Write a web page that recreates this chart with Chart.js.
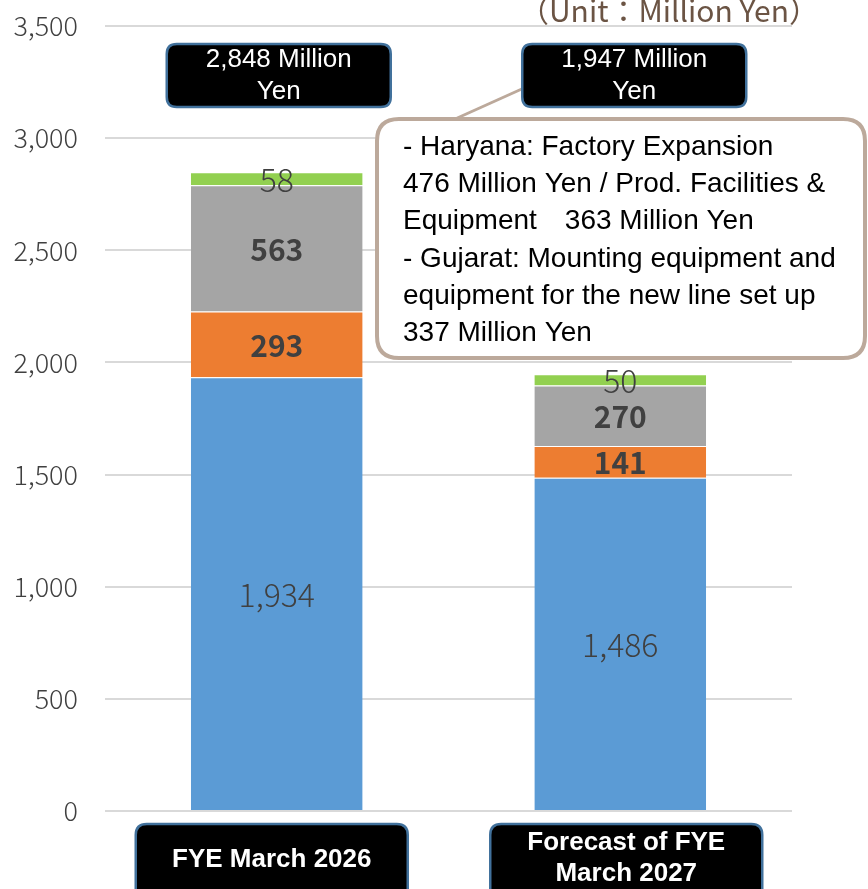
<!DOCTYPE html>
<html>
<head>
<meta charset="utf-8">
<script src="https://cdn.jsdelivr.net/npm/chart.js@4/dist/chart.umd.min.js"></script>
<style>
  html, body { margin: 0; padding: 0; background: #fff; }
  #wrap { width: 868px; height: 889px; position: relative; }
</style>
</head>
<body>
<div id="wrap"><canvas id="chart-capex"></canvas></div>
<script>
// 年度ラベル
const categories = [["FYE March 2026"], ["Forecast of FYE", "March 2027"]];
// 系列ごとの値 (百万円)
const seriesBlue = [1934, 1486];
const seriesOrange = [293, 141];
const seriesGray = [563, 270];
const seriesGreen = [58, 50];
// Y軸の目盛
const yTicks = [0, 500, 1000, 1500, 2000, 2500, 3000, 3500];

const unitText = "（Unit：Million Yen）";
const noteLines = [
  "- Haryana: Factory Expansion",
  "476 Million Yen / Prod. Facilities &",
  "Equipment　363 Million Yen",
  "- Gujarat: Mounting equipment and",
  "equipment for the new line set up",
  "337 Million Yen",
];

const totals = categories.map((_, i) => seriesBlue[i] + seriesOrange[i] + seriesGray[i] + seriesGreen[i]);
const fmt = (v) => v.toLocaleString("en-US");

const CJK = "'Noto Sans CJK JP', 'Noto Sans', sans-serif";
const ARIAL = "'Liberation Sans', Arial, sans-serif";

function roundRect(c, x, y, w, h, r) {
  c.beginPath();
  c.moveTo(x + r, y);
  c.lineTo(x + w - r, y);
  c.quadraticCurveTo(x + w, y, x + w, y + r);
  c.lineTo(x + w, y + h - r);
  c.quadraticCurveTo(x + w, y + h, x + w - r, y + h);
  c.lineTo(x + r, y + h);
  c.quadraticCurveTo(x, y + h, x, y + h - r);
  c.lineTo(x, y + r);
  c.quadraticCurveTo(x, y, x + r, y);
  c.closePath();
}

// 棒の中に値を書く
const segLabels = {
  id: "segLabels",
  afterDatasetsDraw(chart) {
    const c = chart.ctx;
    c.save();
    c.textAlign = "center";
    c.textBaseline = "middle";
    c.fillStyle = "#404040";
    chart.data.datasets.forEach((ds, di) => {
      const meta = chart.getDatasetMeta(di);
      meta.data.forEach((bar, i) => {
        const p = bar.getCenterPoint();
        c.font = ds.boldLabel ? "bold 30px " + CJK : "300 32px " + CJK;
        c.fillText(fmt(ds.data[i]), p.x, p.y + 1);
      });
    });
    c.restore();
  },
};

// 合計・カテゴリ・注記のボックス
const boxes = {
  id: "boxes",
  afterDraw(chart) {
    const c = chart.ctx;
    const xs = chart.scales.x;
    c.save();

    // 単位
    c.font = "30px " + CJK;
    c.fillStyle = "#6b5444";
    c.textAlign = "center";
    c.textBaseline = "alphabetic";
    c.fillText(unitText, 669, 22);

    // 引き出し線
    c.strokeStyle = "#bca99b";
    c.lineWidth = 3;
    c.beginPath();
    c.moveTo(524, 88);
    c.lineTo(444, 124);
    c.stroke();

    // 合計ボックス
    const totalOffsets = [2, 14];
    totals.forEach((t, i) => {
      const cx = xs.getPixelForValue(i) + totalOffsets[i];
      roundRect(c, cx - 112, 44, 224, 63, 10);
      c.fillStyle = "#000";
      c.fill();
      c.strokeStyle = "#41719c";
      c.lineWidth = 2.5;
      c.stroke();
      c.fillStyle = "#fff";
      c.font = "26px " + ARIAL;
      c.textAlign = "center";
      c.textBaseline = "middle";
      c.fillText(fmt(t) + " Million", cx, 60);
      c.fillText("Yen", cx, 92);
    });

    // カテゴリボックス
    const catOffsets = [-5, 6];
    categories.forEach((lines, i) => {
      const cx = xs.getPixelForValue(i) + catOffsets[i];
      roundRect(c, cx - 136, 824, 272, 80, 11);
      c.fillStyle = "#000";
      c.fill();
      c.strokeStyle = "#41719c";
      c.lineWidth = 2.5;
      c.stroke();
      c.fillStyle = "#fff";
      c.font = "bold 26px " + ARIAL;
      c.textAlign = "center";
      c.textBaseline = "middle";
      if (lines.length === 1) {
        c.fillText(lines[0], cx, 860);
      } else {
        c.fillText(lines[0], cx, 843);
        c.fillText(lines[1], cx, 874);
      }
    });

    // 注記ボックス
    roundRect(c, 377, 119, 488, 239, 22);
    c.fillStyle = "#fff";
    c.fill();
    c.strokeStyle = "#bca99b";
    c.lineWidth = 4;
    c.stroke();
    c.fillStyle = "#000";
    c.font = "28px " + ARIAL;
    c.textAlign = "left";
    c.textBaseline = "middle";
    noteLines.forEach((s, k) => c.fillText(s, 403, 147 + k * 37.3));

    c.restore();
  },
};

const ctx = document.getElementById("chart-capex");
new Chart(ctx, {
  type: "bar",
  data: {
    labels: categories.map((l) => l.join(" ")),
    datasets: [
      { data: seriesBlue, backgroundColor: "#5b9bd5" },
      { data: seriesOrange, backgroundColor: "#ed7d31", boldLabel: true },
      { data: seriesGray, backgroundColor: "#a5a5a5", boldLabel: true },
      { data: seriesGreen, backgroundColor: "#92d050" },
    ].map((d) => Object.assign(d, {
      borderColor: "rgba(255,255,255,0.6)",
      borderWidth: { top: 1, left: 0, right: 0, bottom: 0 },
      borderSkipped: false,
      categoryPercentage: 1,
      barPercentage: 0.5,
    })),
  },
  options: {
    responsive: true,
    maintainAspectRatio: false,
    animation: false,
    layout: { padding: { left: 0, right: 76, top: 26, bottom: 78 } },
    plugins: { legend: { display: false }, tooltip: { enabled: false } },
    scales: {
      x: { stacked: true, display: false },
      y: {
        stacked: true,
        min: 0,
        max: yTicks[yTicks.length - 1],
        afterFit: (s) => {
          s.width = 105;
          s.paddingTop = 0;
          s.paddingBottom = 0;
        },
        afterBuildTicks: (s) => { s.ticks = yTicks.map((v) => ({ value: v })); },
        grid: { color: "#d9d9d9", lineWidth: 2, drawTicks: false },
        border: { display: false },
        ticks: {
          padding: 27,
          color: "#404040",
          font: { family: CJK, size: 27, weight: "300" },
          callback: (v) => fmt(v),
        },
      },
    },
  },
  plugins: [segLabels, boxes],
});
</script>
</body>
</html>
